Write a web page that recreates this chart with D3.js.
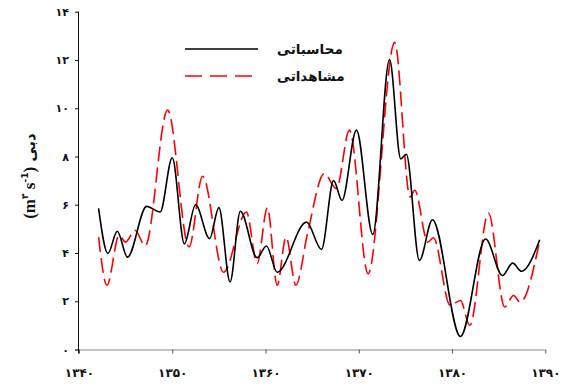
<!DOCTYPE html>
<html>
<head>
<meta charset="utf-8">
<script src="https://cdn.jsdelivr.net/npm/d3@7"></script>
<style>
  body { margin: 0; background: #fff; }
  svg { display: block; }
</style>
</head>
<body>
<svg width="567" height="385"></svg>
<script>
// traced turning points of each curve: [year, discharge]
const computedYears = [1342.1, 1343.1, 1344.1, 1345.2, 1347.25, 1348.7, 1350.0, 1351.3, 1352.5, 1354.0,
	1355.0, 1356.2, 1357.3, 1359.1, 1360.1, 1361.25, 1364.4, 1366.0, 1367.3, 1368.2,
	1369.75, 1371.5, 1373.3, 1374.5, 1375.1, 1376.5, 1377.9, 1380.9, 1383.6, 1385.4,
	1386.5, 1387.45, 1389.4]
const computedValues = [5.85, 3.98, 4.9, 3.83, 5.93, 5.7, 7.95, 4.38, 6.0, 4.6,
	5.88, 2.8, 5.73, 3.8, 4.29, 3.2, 5.28, 4.15, 7.0, 6.18,
	9.09, 4.77, 12.02, 7.9, 8.09, 3.69, 5.38, 0.54, 4.58, 3.07,
	3.58, 3.24, 4.55]

const observedYears = [1342.1, 1343.0, 1344.3, 1345.0, 1346.0, 1347.1, 1349.5, 1351.8, 1353.25, 1355.5,
	1357.95, 1359.1, 1360.2, 1361.25, 1362.2, 1363.25, 1364.5, 1366.3, 1367.6, 1369.0,
	1371.0, 1373.85, 1375.5, 1376.0, 1377.4, 1378.0, 1379.8, 1380.9, 1381.9, 1383.9,
	1385.65, 1386.6, 1387.3, 1389.4]
const observedValues = [4.66, 2.66, 4.73, 4.45, 4.94, 4.3, 9.92, 4.25, 7.18, 3.2,
	5.7, 3.56, 5.88, 2.66, 4.66, 2.66, 4.8, 7.29, 6.67, 9.09,
	3.14, 12.73, 6.32, 6.6, 4.45, 4.63, 1.83, 2.03, 1.0, 5.66,
	1.76, 2.24, 1.96, 4.52]

const xTicks = [1340, 1350, 1360, 1370, 1380, 1390]
const yTicks = [0, 2, 4, 6, 8, 10, 12, 14]
const seriesNames = ['محاسباتی', 'مشاهداتی']
const yTitle = 'دبی'

const faDigits = '۰۱۲۳۴۵۶۷۸۹'
function toFa(n) {
	return String(n).replace(/[0-9]/g, c => faDigits[+c])
}

let svg = d3.select('svg')

let xScale = d3.scaleLinear().domain([1340, 1390]).range([79, 545.3])
let yScale = d3.scaleLinear().domain([0, 14]).range([349.5, 11.7])

function drawAxis() {
	let bottomG = svg.append('g')
		.attr('transform', `translate(0, ${yScale(0)})`)
		.call(d3.axisBottom(xScale).tickValues(xTicks).tickSize(4).tickSizeOuter(0).tickFormat(toFa))
	bottomG.select('.domain').attr('stroke', '#888').attr('d', `M75,0.5H${xScale(1390)}`)
	bottomG.selectAll('.tick line').attr('stroke', '#555')
	bottomG.selectAll('.tick text')
		.attr('y', 19)
		.attr('font-family', 'DejaVu Sans')
		.attr('font-weight', 'bold')
		.attr('font-size', 12)
		.attr('fill', '#111')

	let leftG = svg.append('g')
		.attr('transform', `translate(${xScale(1340)}, 0)`)
		.call(d3.axisLeft(yScale).tickValues(yTicks).tickSize(4).tickSizeOuter(0).tickFormat(toFa))
	leftG.select('.domain').attr('stroke', '#111').attr('d', `M-0.5,${yScale(14)}V${yScale(0) + 4}`)
	leftG.selectAll('.tick line').attr('stroke', '#111')
	leftG.selectAll('.tick text')
		.attr('x', -10)
		.attr('font-family', 'DejaVu Sans')
		.attr('font-weight', 'bold')
		.attr('font-size', 11)
		.attr('fill', '#111')

	// y title: "(m۳ s-۱) دبی" read bottom to top
	let title = svg.append('text')
		.attr('transform', 'translate(35, 176) rotate(-90)')
		.attr('text-anchor', 'middle')
		.attr('font-weight', 'bold')
		.attr('fill', '#111')
	let serif = { 'font-family': 'Liberation Serif', 'font-size': 17 }
	let sup = { 'font-family': 'DejaVu Sans', 'font-size': 9, 'dy': -7 }
	title.append('tspan').attr('font-family', serif['font-family']).attr('font-size', serif['font-size']).text('(m')
	title.append('tspan').attr('font-family', sup['font-family']).attr('font-size', sup['font-size']).attr('dy', sup.dy).text('۳')
	title.append('tspan').attr('font-family', serif['font-family']).attr('font-size', serif['font-size']).attr('dy', 7).text(' s')
	title.append('tspan').attr('font-family', sup['font-family']).attr('font-size', sup['font-size']).attr('dy', sup.dy).text('-1')
	title.append('tspan').attr('font-family', serif['font-family']).attr('font-size', serif['font-size']).attr('dy', 7).text(')')
	title.append('tspan')
		.attr('font-family', 'DejaVu Sans')
		.attr('font-size', 15)
		.text('\u00a0' + yTitle)
}

function drawLines() {
	let line = d3.line()
		.x(d => xScale(d[0]))
		.y(d => yScale(d[1]))
		.curve(d3.curveMonotoneX)

	let observed = observedYears.map((y, i) => [y, observedValues[i]])
	let computed = computedYears.map((y, i) => [y, computedValues[i]])

	svg.append('path')
		.datum(observed)
		.attr('d', line)
		.attr('fill', 'none')
		.attr('stroke', '#f00')
		.attr('stroke-width', 1.6)
		.attr('stroke-dasharray', '15,6')

	svg.append('path')
		.datum(computed)
		.attr('d', line)
		.attr('fill', 'none')
		.attr('stroke', '#000')
		.attr('stroke-width', 1.6)
}

function drawLegend() {
	let items = [
		{ name: seriesNames[0], color: '#000', dash: null, y: 49 },
		{ name: seriesNames[1], color: '#f00', dash: '17,8', y: 76 },
	]
	let g = svg.append('g')
	items.forEach(it => {
		g.append('line')
			.attr('x1', 185).attr('x2', 258)
			.attr('y1', it.y).attr('y2', it.y)
			.attr('stroke', it.color)
			.attr('stroke-width', 1.6)
			.attr('stroke-dasharray', it.dash)
		g.append('text')
			.attr('x', 277)
			.attr('y', it.y + 5)
			.attr('font-family', 'DejaVu Sans')
			.attr('font-weight', 'bold')
			.attr('font-size', 13.5)
			.attr('fill', '#111')
			.text(it.name)
	})
}

drawAxis()
drawLines()
drawLegend()
</script>
</body>
</html>
